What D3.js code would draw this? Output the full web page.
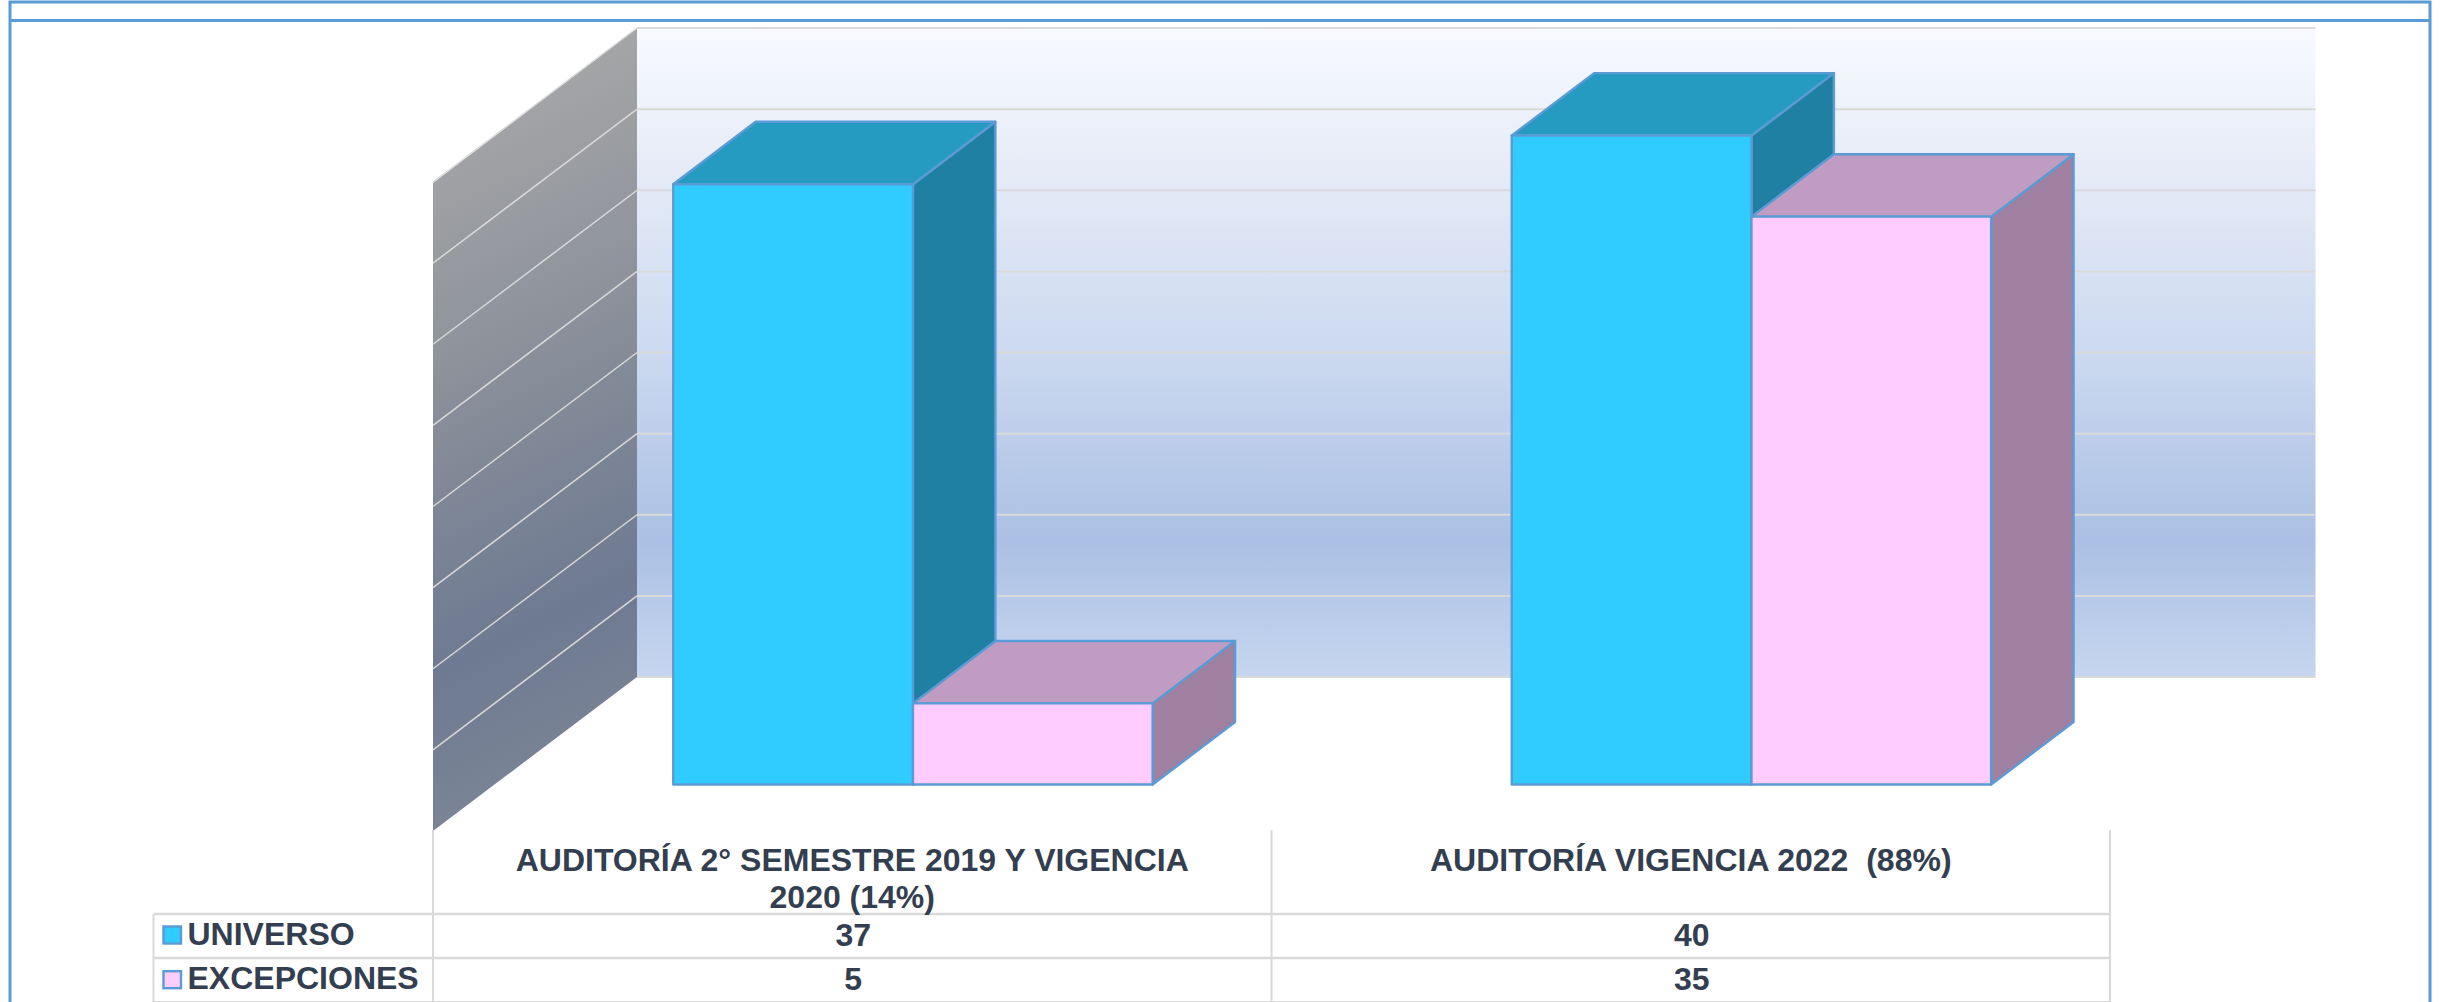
<!DOCTYPE html>
<html><head><meta charset="utf-8">
<script src="https://cdn.jsdelivr.net/npm/d3@7/dist/d3.min.js"></script>
<style>
html,body{margin:0;padding:0;background:#fff;overflow:hidden}
svg{display:block}
text{font-family:"Liberation Sans",Arial,sans-serif;font-weight:700;fill:#333f50;white-space:pre}
</style></head><body>
<script>
// ---- data ----
const categories = ["AUDITORÍA 2° SEMESTRE 2019 Y VIGENCIA 2020 (14%)", "AUDITORÍA VIGENCIA 2022  (88%)"];
const categoryLines = [["AUDITORÍA 2° SEMESTRE 2019 Y VIGENCIA", "2020 (14%)"], ["AUDITORÍA VIGENCIA 2022  (88%)"]];
const seriesNames = ["UNIVERSO", "EXCEPCIONES"];
const universo = [37, 40];
const excepciones = [5, 35];
const seriesValues = [universo, excepciones];
const yTicks = [0, 5, 10, 15, 20, 25, 30, 35, 40];
const frontColors = ["#30CCFF", "#FFCCFF"];
const topColors = ["#259BC2", "#C09BC2"];
const sideColors = ["#2080A4", "#A080A0"];

// ---- layout ----
const W = 2445, H = 1002;
const stroke = "#5B9BD5", grid = "#D9D9D9";
const svg = d3.select("body").append("svg").attr("width", W).attr("height", H);
const defs = svg.append("defs");

const backG = defs.append("linearGradient").attr("id", "backG").attr("x1", 0).attr("y1", 0).attr("x2", 0).attr("y2", 1);
[[0, "#F8FAFF"], [0.25, "#E3E9F6"], [0.5, "#CCD9F0"], [0.79, "#ABC0E4"], [1, "#C6D6EF"]]
  .forEach(([o, c]) => backG.append("stop").attr("offset", o).attr("stop-color", c));
const wallG = defs.append("linearGradient").attr("id", "wallG").attr("gradientUnits", "userSpaceOnUse")
  .attr("x1", 380).attr("y1", 170).attr("x2", 700).attr("y2", 830);
[[0, "#A3A4A6"], [0.25, "#90949C"], [0.37, "#858C98"], [0.65, "#6E7A92"], [1, "#838C98"]]
  .forEach(([o, c]) => wallG.append("stop").attr("offset", o).attr("stop-color", c));

const tableLeft = 153.5, tableX0 = 433, tableX1 = 2110, backRight = 2315.5, wallBackX = 637;
const wallDx = wallBackX - tableX0, wallDy = 154;   // floor depth of the side wall
const barDx = 82.4, barDy = 62.4;                   // depth of a bar
const barOffsetX = 60.7, barOffsetY = 107.5;        // bar front plane relative to back wall / table

const x0 = d3.scaleBand().domain(categories).range([tableX0, tableX1]);
const barWidth = 239.7;
const x1 = d3.scaleBand().domain(seriesNames)
  .range([x0.bandwidth() / 2 - barWidth + barOffsetX, x0.bandwidth() / 2 + barWidth + barOffsetX]);
const y = d3.scaleLinear().domain([0, 40]).range([677, 28]); // on the back wall

const line = d3.line();
const poly = pts => line(pts) + "Z";

// back wall
svg.append("rect").attr("x", wallBackX).attr("y", y(40)).attr("width", backRight - wallBackX)
  .attr("height", y(0) - y(40)).attr("fill", "url(#backG)");
svg.append("g").selectAll("line").data(yTicks).join("line")
  .attr("x1", wallBackX).attr("x2", backRight).attr("y1", d => y(d)).attr("y2", d => y(d))
  .attr("stroke", grid).attr("stroke-width", 2);

// side wall
svg.append("path").attr("d", poly([[tableX0, y(40) + wallDy + 1], [wallBackX, y(40)], [wallBackX, y(0)], [tableX0, y(0) + wallDy]]))
  .attr("fill", "url(#wallG)");
svg.append("g").selectAll("line").data(yTicks.slice(1)).join("line")
  .attr("x1", tableX0).attr("x2", wallBackX).attr("y1", d => y(d) + wallDy).attr("y2", d => y(d))
  .attr("stroke", grid).attr("stroke-width", 1.5);

// bars
const barsG = svg.append("g").attr("stroke", stroke).attr("stroke-width", 2.4).attr("stroke-linejoin", "round");
categories.forEach((cat, ci) => {
  seriesNames.forEach((name, si) => {
    const v = seriesValues[si][ci];
    const xl = x0(cat) + x1(name), xr = xl + x1.bandwidth();
    const yt = y(v) + barOffsetY, yb = y(0) + barOffsetY;
    const g = barsG.append("g");
    g.append("path").attr("fill", sideColors[si])
      .attr("d", poly([[xr, yt], [xr + barDx, yt - barDy], [xr + barDx, yb - barDy], [xr, yb]]));
    g.append("path").attr("fill", topColors[si])
      .attr("d", poly([[xl, yt], [xl + barDx, yt - barDy], [xr + barDx, yt - barDy], [xr, yt]]));
    g.append("rect").attr("fill", frontColors[si]).attr("x", xl).attr("y", yt)
      .attr("width", xr - xl).attr("height", yb - yt);
  });
});

// data table
const rowLines = [914, 958, 1001.5];
const tableG = svg.append("g").attr("stroke", grid);
tableG.selectAll("line.h").data(rowLines).join("line").attr("class", "h")
  .attr("x1", tableLeft).attr("x2", tableX1).attr("y1", d => d).attr("y2", d => d)
  .attr("stroke-width", (d, i) => i === 2 ? 1 : 2.4);
tableG.append("line").attr("x1", tableLeft).attr("x2", tableLeft).attr("y1", rowLines[0]).attr("y2", H).attr("stroke-width", 2);
const colEdges = [tableX0, tableX0 + x0.step(), tableX1];
tableG.selectAll("line.v").data(colEdges).join("line").attr("class", "v")
  .attr("x1", d => d).attr("x2", d => d).attr("y1", 830).attr("y2", H).attr("stroke-width", 2);

const fs = 32;
const labels = svg.append("g").attr("font-size", fs);
categories.forEach((cat, ci) => {
  const cx = x0(cat) + x0.bandwidth() / 2;
  categoryLines[ci].forEach((t, li) => {
    labels.append("text").attr("x", cx).attr("y", 871 + li * 36.5).attr("text-anchor", "middle").text(t);
  });
  seriesNames.forEach((name, si) => {
    labels.append("text").attr("x", cx + 1).attr("y", 946 + si * 44).attr("text-anchor", "middle").text(seriesValues[si][ci]);
  });
});
seriesNames.forEach((name, si) => {
  labels.append("text").attr("x", 187.5).attr("y", 945 + si * 44).text(name);
  svg.append("rect").attr("x", 163.5).attr("y", 926.5 + si * 44.7).attr("width", 17.5).attr("height", 17)
    .attr("fill", frontColors[si]).attr("stroke", stroke).attr("stroke-width", 2.4);
});

// outer frame
const frame = svg.append("g").attr("fill", "none").attr("stroke", stroke).attr("stroke-width", 3);
frame.append("rect").attr("x", 10).attr("y", 2).attr("width", 2420).attr("height", H + 10);
frame.append("line").attr("x1", 10).attr("x2", 2430).attr("y1", 20.5).attr("y2", 20.5);
</script>
</body></html>
